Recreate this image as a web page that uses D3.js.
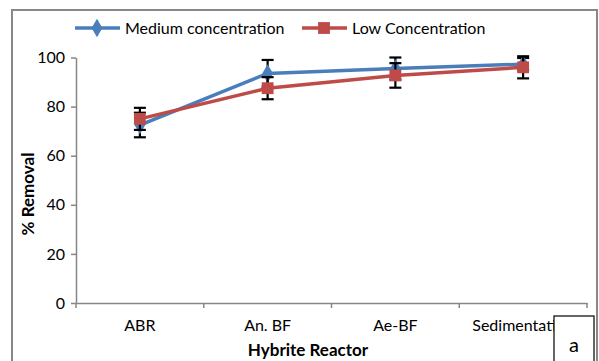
<!DOCTYPE html>
<html>
<head>
<meta charset="utf-8">
<script src="https://cdn.jsdelivr.net/npm/d3@7"></script>
<style>
  body { margin: 0; background: #fff; }
  svg { display: block; }
</style>
</head>
<body>
<svg id="chart"></svg>
<script>
// reactor stages on the x axis
const categories = ["ABR", "An. BF", "Ae-BF", "Sedimentation"];
const seriesNames = ["Medium concentration", "Low Concentration"];
// % removal
const mediumValues = [72.5, 93.5, 95.5, 97.3];
const lowValues = [75, 87.5, 92.7, 96];
const mediumErr = [5, 5.5, 4.5, 2.5];
const lowErr = [4.5, 4.5, 5, 4.5];
const yTicks = [0, 20, 40, 60, 80, 100];

const W = 599, H = 361;
const font = "Lato, 'Open Sans', sans-serif";
const colors = ["#4a7ebb", "#be4b48"];

const svg = d3.select("#chart").attr("width", W).attr("height", H)
  .attr("font-family", font);

// outer frame
svg.append("rect")
  .attr("x", 12).attr("y", 10)
  .attr("width", 585).attr("height", 360)
  .attr("fill", "none").attr("stroke", "#888").attr("stroke-width", 2);

const x = d3.scaleBand(categories, [76, 587]);
const y = d3.scaleLinear([0, 100], [303, 57.5]);

// y axis
const gY = svg.append("g").attr("transform", "translate(76,0)")
  .call(d3.axisLeft(y).tickValues(yTicks).tickSize(5).tickPadding(6).tickSizeOuter(0));
gY.select(".domain").attr("stroke", "#868686").attr("stroke-width", 1.5);
gY.selectAll(".tick line").attr("stroke", "#868686").attr("stroke-width", 1.5);
gY.selectAll(".tick text").attr("font-size", 16).attr("fill", "#000").attr("font-family", font);

// x axis
const gX = svg.append("g").attr("transform", "translate(0,303)")
  .call(d3.axisBottom(x).tickSize(0).tickPadding(17));
gX.select(".domain").attr("stroke", "#868686").attr("stroke-width", 1.5);
gX.selectAll(".tick text").attr("font-size", 16).attr("fill", "#000").attr("font-family", font);
// boundary ticks between categories
gX.selectAll(".bt")
  .data(categories.map(c => x(c)).concat([x.range()[1]]))
  .join("line")
  .attr("x1", d => d).attr("x2", d => d)
  .attr("y1", 0).attr("y2", 5)
  .attr("stroke", "#868686").attr("stroke-width", 1.5);

// axis titles
svg.append("text")
  .attr("x", 308).attr("y", 356)
  .attr("text-anchor", "middle")
  .attr("font-size", 17).attr("font-weight", "bold")
  .text("Hybrite Reactor");

svg.append("text")
  .attr("transform", "translate(34,194) rotate(-90)")
  .attr("text-anchor", "middle")
  .attr("font-size", 17).attr("font-weight", "bold")
  .text("% Removal");

const cx = c => x(c) + x.bandwidth() / 2;
const series = [
  { name: seriesNames[0], values: mediumValues, err: mediumErr, color: colors[0], shape: d3.symbolDiamond, size: 100 },
  { name: seriesNames[1], values: lowValues, err: lowErr, color: colors[1], shape: d3.symbolSquare, size: 140 }
];

const line = d3.line().x(d => cx(d.c)).y(d => y(d.v));

series.forEach(s => {
  const pts = categories.map((c, i) => ({ c: c, v: s.values[i], e: s.err[i] }));
  svg.append("path")
    .attr("d", line(pts))
    .attr("fill", "none").attr("stroke", s.color).attr("stroke-width", 3.5);
  // error bars
  const eb = svg.append("g").attr("stroke", "#000").attr("stroke-width", 2.2);
  pts.forEach(p => {
    const X = cx(p.c);
    eb.append("line").attr("x1", X).attr("x2", X).attr("y1", y(p.v + p.e)).attr("y2", y(p.v - p.e));
    eb.append("line").attr("x1", X - 6).attr("x2", X + 6).attr("y1", y(p.v + p.e)).attr("y2", y(p.v + p.e));
    eb.append("line").attr("x1", X - 6).attr("x2", X + 6).attr("y1", y(p.v - p.e)).attr("y2", y(p.v - p.e));
  });
  svg.append("g").selectAll("path")
    .data(pts).join("path")
    .attr("transform", p => `translate(${cx(p.c)},${y(p.v)})`)
    .attr("d", d3.symbol(s.shape, s.size))
    .attr("fill", s.color);
});

// legend
const legendX = [75, 302];
series.forEach((s, i) => {
  const g = svg.append("g").attr("transform", `translate(${legendX[i]},28)`);
  g.append("line").attr("x1", 0).attr("x2", 45).attr("stroke", s.color).attr("stroke-width", 3.5);
  g.append("path").attr("transform", "translate(22,0)")
    .attr("d", d3.symbol(s.shape, s.size)).attr("fill", s.color);
  g.append("text").attr("x", 50).attr("y", 6).attr("font-size", 16).text(s.name);
});

// "a" panel box, covering the end of the last label
svg.append("rect")
  .attr("x", 554).attr("y", 316).attr("width", 40).attr("height", 50)
  .attr("fill", "#fff").attr("stroke", "#000").attr("stroke-width", 1.2);
svg.append("text")
  .attr("x", 574).attr("y", 352).attr("text-anchor", "middle")
  .attr("font-size", 20).text("a");
</script>
</body>
</html>
